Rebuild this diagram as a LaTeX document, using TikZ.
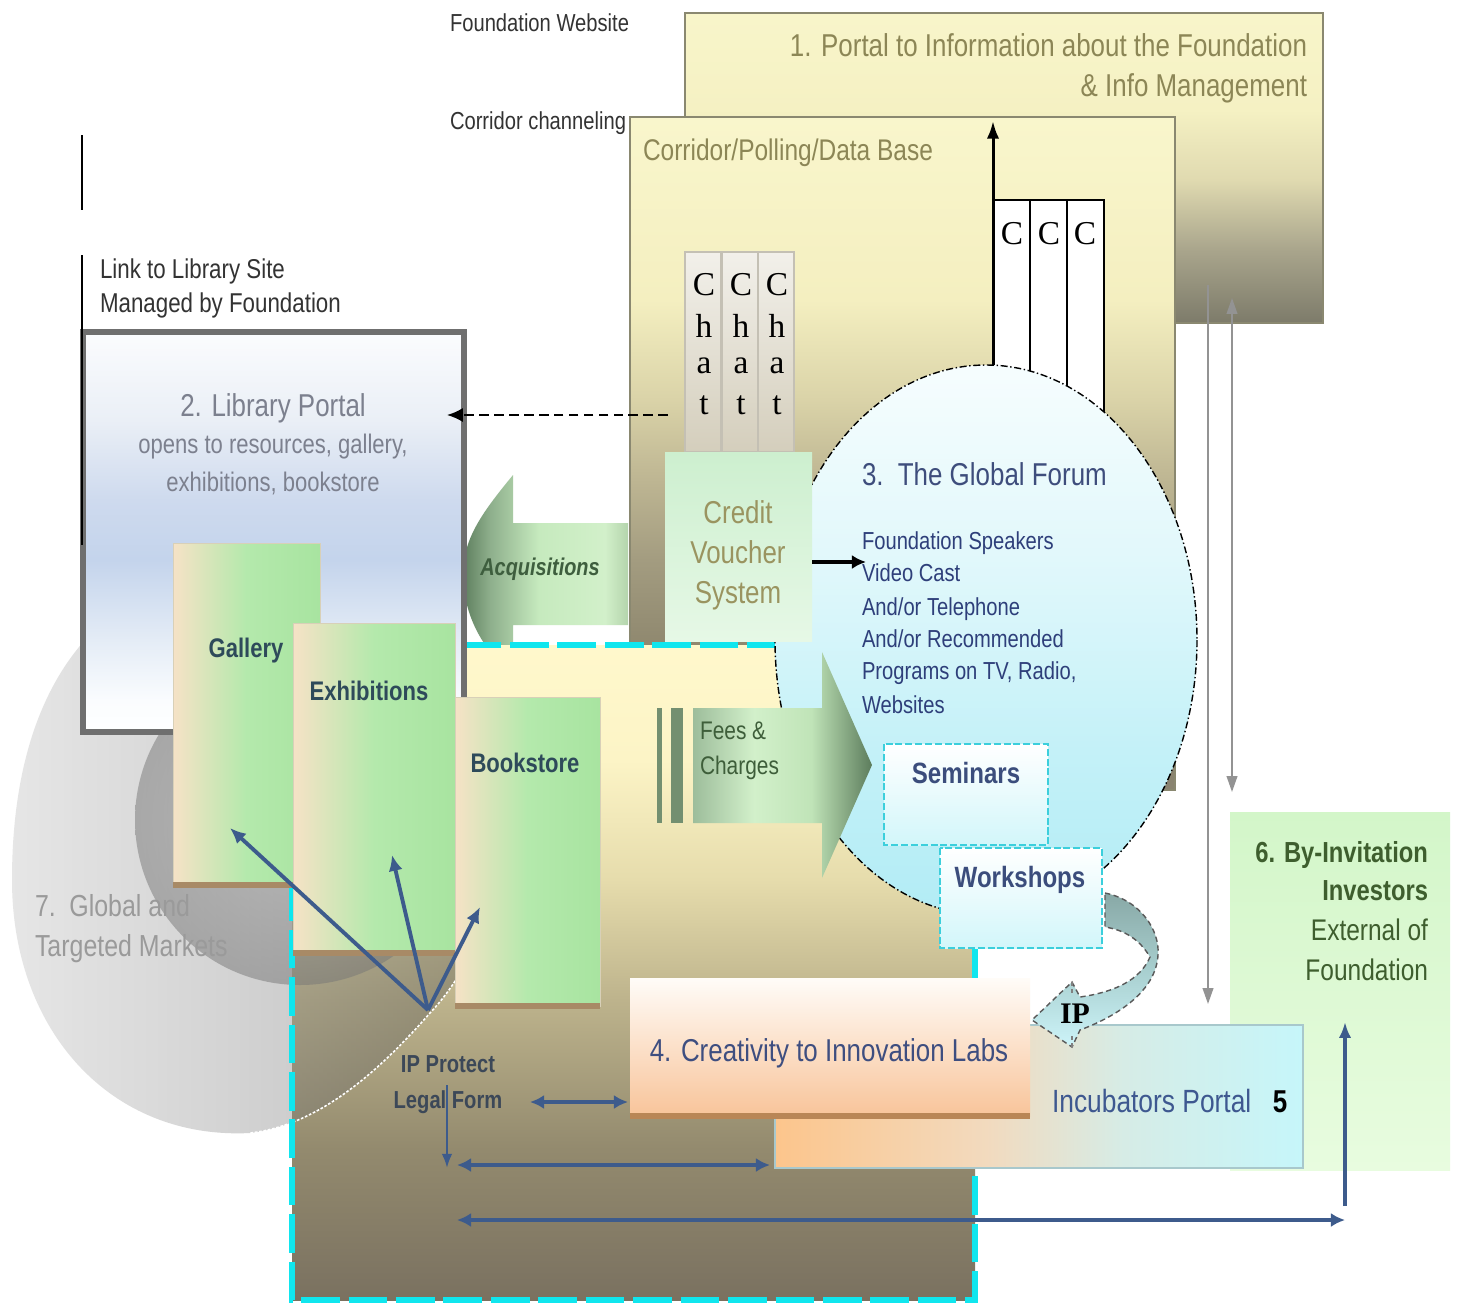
\documentclass[tikz,border=0pt]{standalone}
\usepackage{fontspec}
\setmainfont{Liberation Sans}[FakeStretch=0.82]
\newfontfamily\serf{Liberation Serif}
\usetikzlibrary{arrows.meta}
% ---------- colours ----------
\definecolor{txtdark}{HTML}{333333}
\definecolor{olivet}{HTML}{8C8656}
\definecolor{libt}{HTML}{7C808E}
\definecolor{voucht}{HTML}{9A9460}
\definecolor{acqt}{HTML}{3E5E3E}
\definecolor{forumt}{HTML}{3E4D7C}
\definecolor{listt}{HTML}{2E3F7A}
\definecolor{semt}{HTML}{3B4D7C}
\definecolor{feest}{HTML}{3E5E3A}
\definecolor{galt}{HTML}{2E4A5A}
\definecolor{mktt}{HTML}{9A9A9A}
\definecolor{ipt}{HTML}{3C4858}
\definecolor{labt}{HTML}{3E4E80}
\definecolor{incut}{HTML}{3E5890}
\definecolor{invt}{HTML}{3E5E2E}
\definecolor{arrblue}{HTML}{3D5B8C}
\definecolor{cyanb}{HTML}{10E6EE}
\definecolor{semb}{HTML}{3CCFDC}
\definecolor{semfill}{HTML}{D2F6FA}
\definecolor{libb}{HTML}{6F6F6F}
\definecolor{boxb}{HTML}{8A8870}
\definecolor{peach}{HTML}{F6E2C6}
\definecolor{lgreen}{HTML}{B4E9AC}
\definecolor{lgreen2}{HTML}{A8E4A0}
\definecolor{gbord}{HTML}{D8D0B8}
\definecolor{shadowb}{HTML}{A88A66}
\definecolor{grayl}{HTML}{939393}
\definecolor{chatt}{HTML}{F2F0EA}
\definecolor{chatb}{HTML}{D4CEBC}
\definecolor{chatl}{HTML}{C4C0B4}
\definecolor{vouchT}{HTML}{CDEFCF}
\definecolor{vouchB}{HTML}{E6F8E6}
\definecolor{labT}{HTML}{FFFCF8}
\definecolor{labB}{HTML}{F8C49A}
\definecolor{labS}{HTML}{B98656}
\definecolor{sixT}{HTML}{D3F6C9}
\definecolor{sixB}{HTML}{E8FCDF}
\definecolor{incB}{HTML}{A8C8CC}
\definecolor{bandT}{HTML}{88A8A6}
\definecolor{bandM}{HTML}{A8CFCF}
\definecolor{bandB}{HTML}{CDF4F9}
\definecolor{barg}{HTML}{738F70}
\definecolor{gO1}{HTML}{B8B8B8}
\definecolor{gO2}{HTML}{404040}
\definecolor{gI1}{HTML}{A2A2A2}
\definecolor{gI2}{HTML}{767676}
% box 1
\definecolor{oA}{HTML}{F8F5CA}\definecolor{oB}{HTML}{F5F1C3}\definecolor{oC}{HTML}{E0DAB0}
\definecolor{oD}{HTML}{A9A58C}\definecolor{oE}{HTML}{7D7B6A}
\pgfdeclareverticalshading{shOne}{100bp}{color(0bp)=(oE); color(25bp)=(oE); color(36.8bp)=(oD); color(48.1bp)=(oC); color(59.4bp)=(oB); color(75bp)=(oA); color(100bp)=(oA)}
% corridor
\definecolor{cA}{HTML}{F9F6CC}\definecolor{cB}{HTML}{F4EFC0}\definecolor{cC}{HTML}{DAD3A8}
\definecolor{cD}{HTML}{C1B995}\definecolor{cE}{HTML}{A39C80}\definecolor{cF}{HTML}{8E876E}\definecolor{cG}{HTML}{898370}
\pgfdeclareverticalshading{shCor}{100bp}{color(0bp)=(cG); color(25bp)=(cG); color(35.4bp)=(cF); color(42.1bp)=(cE); color(48.8bp)=(cD); color(54bp)=(cC); color(61.4bp)=(cB); color(75bp)=(cA); color(100bp)=(cA)}
% big yellow
\definecolor{yA}{HTML}{FFF8CC}\definecolor{yB}{HTML}{FCF4C6}\definecolor{yC}{HTML}{E6DCAC}
\definecolor{yD}{HTML}{BDB38C}\definecolor{yE}{HTML}{938A6E}\definecolor{yF}{HTML}{7A7160}
\pgfdeclareverticalshading{shYel}{100bp}{color(0bp)=(yF); color(25bp)=(yF); color(36.5bp)=(yE); color(47.9bp)=(yD); color(57.1bp)=(yC); color(66.2bp)=(yB); color(75bp)=(yA); color(100bp)=(yA)}
% library
\definecolor{lA}{HTML}{FBFCFE}\definecolor{lB}{HTML}{EAEFF6}\definecolor{lC}{HTML}{CEDAEE}
\definecolor{lD}{HTML}{C4D4EC}\definecolor{lE}{HTML}{E4ECF6}\definecolor{lF}{HTML}{FAFCFE}
\pgfdeclareverticalshading{shLib}{100bp}{color(0bp)=(white); color(25bp)=(white); color(29bp)=(lF); color(36.5bp)=(lE); color(46.5bp)=(lD); color(54bp)=(lC); color(64bp)=(lB); color(75bp)=(lA); color(100bp)=(lA)}
% ellipse
\definecolor{eA}{HTML}{F6FDFE}\definecolor{eB}{HTML}{E2F8FB}\definecolor{eC}{HTML}{C4F1F8}\definecolor{eD}{HTML}{B2ECF5}
\pgfdeclareverticalshading{shEll}{100bp}{color(0bp)=(eD); color(25bp)=(eD); color(40bp)=(eC); color(58bp)=(eB); color(75bp)=(eA); color(100bp)=(eA)}
% incubators
\definecolor{iA}{HTML}{FCC58C}\definecolor{iB}{HTML}{F2DABE}\definecolor{iC}{HTML}{D6ECE6}\definecolor{iD}{HTML}{C6F6FA}
\pgfdeclarehorizontalshading{shInc}{100bp}{color(0bp)=(iA); color(25bp)=(iA); color(45bp)=(iB); color(58bp)=(iC); color(75bp)=(iD); color(100bp)=(iD)}
% fees arrow
\definecolor{fA}{HTML}{9DBD9B}\definecolor{fB}{HTML}{D2F0CA}\definecolor{fC}{HTML}{C0E4B8}\definecolor{fD}{HTML}{5C7C5C}
\pgfdeclarehorizontalshading{shFee}{100bp}{color(0bp)=(fA); color(25bp)=(fA); color(42bp)=(fB); color(58bp)=(fC); color(75bp)=(fD); color(100bp)=(fD)}
% acquisitions arrow
\definecolor{aA}{HTML}{5E7E5E}\definecolor{aB}{HTML}{8DAE8B}\definecolor{aC}{HTML}{C6EABE}\definecolor{aD}{HTML}{D2F0CA}\definecolor{aE}{HTML}{B4D4AC}
\pgfdeclarehorizontalshading{shAcq}{100bp}{color(0bp)=(aA); color(25bp)=(aA); color(33bp)=(aB); color(48bp)=(aC); color(68bp)=(aD); color(75bp)=(aE); color(100bp)=(aE)}
\begin{document}
\begin{tikzpicture}[x=0.02cm, y=-0.02cm,
  lbl/.style={inner sep=0pt, outer sep=0pt},
  thinbox/.style={draw=boxb, line width=0.8pt},
  greenbox/.style={left color=peach, right color=lgreen2, middle color=lgreen, draw=gbord, line width=0.5pt},
  cyanbox/.style={top color=white, bottom color=semfill, draw=semb, line width=1.1pt, dash pattern=on 4pt off 1.6pt},
  bluearr/.style={draw=arrblue, line width=2.2pt, -{Latex[length=9pt,width=8pt]}},
  bluedbl/.style={draw=arrblue, line width=2.2pt, {Latex[length=8pt,width=8pt]}-{Latex[length=8pt,width=8pt]}},
  grayarr/.style={draw=grayl, line width=1.1pt},
]
\useasboundingbox (0,0) rectangle (1457,1305);
\fill[white] (0,0) rectangle (1457,1305);

% ---------- top labels ----------
\node[lbl, anchor=base west, text=txtdark, font=\fontsize{14}{17}\selectfont] (fw) at (450,31) {Foundation Website};
\node[lbl, anchor=base west, text=txtdark, font=\fontsize{14}{17}\selectfont] (cch) at (450,129) {Corridor channeling};
\node[lbl, anchor=base west, text=txtdark, font=\fontsize{15.5}{19}\selectfont] (lk1) at (100,278) {Link to Library Site};
\node[lbl, anchor=base west, text=txtdark, font=\fontsize{15.5}{19}\selectfont] (lk2) at (100,312) {Managed by Foundation};
\draw[line width=1.7pt] (82,135) -- (82,210);

% ---------- 1. portal box ----------
\path[shade, shading=shOne, thinbox] (685,13) rectangle (1323,323);
\node[lbl, anchor=base east, text=olivet, font=\fontsize{18}{22}\selectfont] (p1a) at (1307,56) {1. Portal to Information about the Foundation};
\node[lbl, anchor=base east, text=olivet, font=\fontsize{18}{22}\selectfont] (p1b) at (1307,96) {\& Info Management};

% ---------- corridor box ----------
\path[shade, shading=shCor, thinbox] (630,117) rectangle (1175,790);
\node[lbl, anchor=base west, text=olivet, font=\fontsize{17}{20}\selectfont] (cor) at (643,160) {Corridor/Polling/Data Base};

% ---------- gray arrows on the right ----------
\coordinate (gA1) at (1208,285); \coordinate (gA2) at (1208,1004);
\coordinate (gB1) at (1232,792); \coordinate (gB2) at (1232,298);
\draw[grayarr, -{Triangle[length=9pt,width=6pt]}] (gA1) -- (gA2);
\draw[grayarr, {Triangle[length=9pt,width=6pt]}-{Triangle[length=9pt,width=6pt]}] (gB1) -- (gB2);

% ---------- chat columns ----------
\foreach \x in {685,722,758}{
  \path[top color=chatt, bottom color=chatb, draw=chatl, line width=0.6pt] (\x,252) rectangle (\x+36,452);
}
\foreach \x [count=\i] in {704,741,777}{
  \foreach \l/\y [count=\j] in {C/295,h/337,a/373,t/414}{
    \node[lbl, anchor=base, font=\serf\fontsize{19}{22}\selectfont] (ch\i\j) at (\x,\y) {\l};
  }
}
% ---------- C C C columns ----------
\foreach \x in {993,1030,1067}{
  \path[fill=white, draw=black, line width=1.2pt] (\x,200) rectangle (\x+37,420);
}
\foreach \x [count=\i] in {1012,1049,1085}{
  \node[lbl, anchor=base, font=\serf\fontsize{19}{22}\selectfont] (cc\i) at (\x,244) {C};
}
\coordinate (upS) at (993,367); \coordinate (upE) at (993,121);
\draw[line width=1.7pt, -{Latex[length=10pt,width=7pt]}] (upS) -- (upE);

% ---------- acquisitions arrow ----------
\path[shade, shading=shAcq] (628,523) -- (513,523) -- (513,475)
   .. controls (480,515) and (463,540) .. (463,575)
   .. controls (463,615) and (485,655) .. (513,672) -- (513,625) -- (628,625) -- cycle;
\node[lbl, anchor=base, text=acqt, font=\bfseries\itshape\fontsize{13.8}{16}\selectfont] (acq) at (540,575) {Acquisitions};

% ---------- big yellow box ----------
\path[shade, shading=shYel] (292,645) rectangle (975,1300);

% ---------- 7. gray sphere ----------
\def\outerpath{(12,880) .. controls (12,720) and (70,630) .. (150,590)
  .. controls (260,540) and (470,620) .. (495,800)
  .. controls (505,880) and (480,960) .. (430,1013)
  .. controls (380,1070) and (320,1125) .. (250,1133)
  .. controls (110,1140) and (12,1030) .. (12,880) -- cycle}
\path[left color=gO1, right color=gO2, fill opacity=0.35] \outerpath;
\begin{scope}
  \clip \outerpath;
  \path[inner color=gI1, outer color=gI2, fill opacity=0.5] (300,820) circle [radius=165];
\end{scope}
\draw[white, line width=0.9pt, dash pattern=on 1.5pt off 1pt] (495,800) .. controls (505,880) and (480,960) .. (430,1013)
  .. controls (380,1070) and (320,1125) .. (250,1133);

% yellow box border
\draw[draw=cyanb, line width=3.4pt, dash pattern=on 22pt off 5pt] (292,645) rectangle (975,1300);

% ---------- 2. library box ----------
\path[shade, shading=shLib, draw=libb, line width=3.4pt] (83,332) rectangle (464,732);
\draw[line width=1.7pt] (82,255) -- (82,545);
\node[lbl, anchor=base, text=libt, font=\fontsize{18}{22}\selectfont] (lib1) at (273,416) {2. Library Portal};
\node[lbl, anchor=base, text=libt, font=\fontsize{15.3}{19}\selectfont] (lib2) at (273,453) {opens to resources, gallery,};
\node[lbl, anchor=base, text=libt, font=\fontsize{15.3}{19}\selectfont] (lib3) at (273,491) {exhibitions, bookstore};

% ---------- 3. global forum ellipse ----------
\path[shade, shading=shEll, draw=black, line width=0.8pt, dash pattern=on 4pt off 1.5pt on 0.8pt off 1.5pt] (986,640) ellipse [x radius=211, y radius=275];

% ---------- credit voucher ----------
\path[top color=vouchT, bottom color=vouchB] (665,452) rectangle (812,641);
\node[lbl, anchor=base, text=voucht, font=\fontsize{18}{22}\selectfont] (cv1) at (738,523) {Credit};
\node[lbl, anchor=base, text=voucht, font=\fontsize{18}{22}\selectfont] (cv2) at (738,563) {Voucher};
\node[lbl, anchor=base, text=voucht, font=\fontsize{18}{22}\selectfont] (cv3) at (738,603) {System};

\coordinate (dashS) at (668,415); \coordinate (dashE) at (447,415);
\draw[line width=1.2pt, dash pattern=on 5.5pt off 3pt, -{Latex[length=9pt,width=8pt]}] (dashS) -- (dashE);
\coordinate (vouS) at (812,562); \coordinate (vouE) at (866,562);
\draw[line width=2.4pt, -{Latex[length=8pt,width=8pt]}] (vouS) -- (vouE);

% ---------- fees arrow ----------
\fill[barg] (657,708) rectangle (662,823);
\fill[barg] (671,708) rectangle (683,823);
\path[shade, shading=shFee] (693,708) -- (822,708) -- (822,652) -- (872,765) -- (822,878) -- (822,823) -- (693,823) -- cycle;
\node[lbl, anchor=base west, text=feest, font=\fontsize{14.5}{17}\selectfont] (fee1) at (700,739) {Fees \&};
\node[lbl, anchor=base west, text=feest, font=\fontsize{14.5}{17}\selectfont] (fee2) at (700,774) {Charges};

% ---------- seminars / workshops ----------
\path[cyanbox] (884,744) rectangle (1048,845);
\node[lbl, anchor=base, text=semt, font=\bfseries\fontsize{16.7}{20}\selectfont] (sem) at (966,783) {Seminars};
\path[cyanbox] (940,848) rectangle (1102,948);
\node[lbl, anchor=base, text=semt, font=\bfseries\fontsize{16.7}{20}\selectfont] (wks) at (1020,887) {Workshops};

% forum texts
\node[lbl, anchor=base west, text=forumt, font=\fontsize{18}{22}\selectfont] (gf) at (862,485) {3.\hspace{0.45em}The Global Forum};
\foreach \t/\y [count=\k] in {{Foundation Speakers}/549, {Video Cast}/581, {And/or Telephone}/615, {And/or Recommended}/647, {Programs on TV, Radio,}/679, {Websites}/713}{
  \node[lbl, anchor=base west, text=listt, font=\fontsize{14}{17}\selectfont] (gl\k) at (862,\y) {\t};
}

% ---------- gallery / exhibitions / bookstore ----------
\path[greenbox] (173,543) rectangle (320,885);
\fill[shadowb] (173,882) rectangle (320,888);
\node[lbl, anchor=base, text=galt, font=\bfseries\fontsize{15.3}{18}\selectfont] (gal) at (246,657) {Gallery};
\path[greenbox] (293,623) rectangle (455,953);
\fill[shadowb] (293,950) rectangle (455,956);
\node[lbl, anchor=base, text=galt, font=\bfseries\fontsize{15.3}{18}\selectfont] (exh) at (369,700) {Exhibitions};
\path[greenbox] (455,697) rectangle (600,1006);
\fill[shadowb] (455,1003) rectangle (600,1009);
\node[lbl, anchor=base, text=galt, font=\bfseries\fontsize{15.3}{18}\selectfont] (bks) at (525,772) {Bookstore};

% 7. markets text
\node[lbl, anchor=base west, text=mktt, font=\fontsize{17.3}{21}\selectfont] (mk1) at (35,916) {7.\hspace{0.45em}Global and};
\node[lbl, anchor=base west, text=mktt, font=\fontsize{17.3}{21}\selectfont] (mk2) at (35,956) {Targeted Markets};

% ---------- 6. investors ----------
\path[top color=sixT, bottom color=sixB] (1230,812) rectangle (1450,1170);
\node[lbl, anchor=base east, text=invt, font=\bfseries\fontsize{16.5}{20}\selectfont] (i6a) at (1428,862) {6. By-Invitation};
\node[lbl, anchor=base east, text=invt, font=\bfseries\fontsize{16.5}{20}\selectfont] (i6b) at (1428,900) {Investors};
\node[lbl, anchor=base east, text=invt, font=\fontsize{17}{20}\selectfont] (i6c) at (1428,940) {External of};
\node[lbl, anchor=base east, text=invt, font=\fontsize{17}{20}\selectfont] (i6d) at (1428,980) {Foundation};

% ---------- 5. incubators ----------
\path[shade, shading=shInc, draw=incB, line width=0.6pt] (775,1025) rectangle (1303,1168);
\node[lbl, anchor=base west, text=incut, font=\fontsize{18.3}{22}\selectfont] (inc) at (1052,1112) {Incubators Portal};
\node[lbl, anchor=base, font=\bfseries\fontsize{18}{22}\selectfont] (inc5) at (1280,1112) {5};

% ---------- 4. labs ----------
\path[top color=labT, bottom color=labB] (630,978) rectangle (1030,1116);
\fill[labS] (630,1113) rectangle (1030,1119);
\node[lbl, anchor=base, text=labt, font=\fontsize{18}{22}\selectfont] (lab) at (829,1061) {4. Creativity to Innovation Labs};

% ---------- curved IP band ----------
\path[top color=bandT, bottom color=bandB, middle color=bandM, draw=black!65, line width=0.8pt, dash pattern=on 3pt off 2pt]
  (1105,893) .. controls (1140,900) and (1160,930) .. (1158,955)
  .. controls (1156,990) and (1120,1015) .. (1080,1030) -- (1072,1047) -- (1032,1020) -- (1072,982) -- (1080,997)
  .. controls (1115,992) and (1140,980) .. (1150,957)
  .. controls (1140,940) and (1125,930) .. (1105,927) -- cycle;
\draw[black!50, line width=0.6pt, dash pattern=on 2pt off 2pt] (1072,982) -- (1072,993) (1072,1036) -- (1072,1047);
\node[lbl, anchor=base, font=\serf\bfseries\fontsize{17}{20}\selectfont] (ipl) at (1075,1023) {IP};

% ---------- blue arrows ----------
\coordinate (ipo) at (428,1010);
\coordinate (tGal) at (230,828); \coordinate (tExh) at (392,855); \coordinate (tBook) at (480,907);
\draw[bluearr] (ipo) -- (tGal);
\draw[bluearr] (ipo) -- (tExh);
\draw[bluearr] (ipo) -- (tBook);
\node[lbl, anchor=base, text=ipt, font=\bfseries\fontsize{14}{17}\selectfont] (ipp1) at (448,1072) {IP Protect};
\node[lbl, anchor=base, text=ipt, font=\bfseries\fontsize{14}{17}\selectfont] (ipp2) at (448,1108) {Legal Form};
\coordinate (lfR) at (530,1102); \coordinate (labL) at (628,1102);
\draw[bluedbl] (lfR) -- (labL);
\coordinate (vS) at (447,1085); \coordinate (vE) at (447,1168);
\draw[draw=arrblue, line width=1.4pt, -{Latex[length=8pt,width=6pt]}] (vS) -- (vE);
\coordinate (m1L) at (457,1165); \coordinate (m1R) at (770,1165);
\draw[bluedbl] (m1L) -- (m1R);
\coordinate (m2L) at (457,1220); \coordinate (m2R) at (1345,1220);
\draw[bluedbl] (m2L) -- (m2R);
\coordinate (upS6) at (1345,1206); \coordinate (upE6) at (1345,1022);
\draw[draw=arrblue, line width=1.8pt, -{Latex[length=9pt,width=7pt]}] (upS6) -- (upE6);
\end{tikzpicture}
\end{document}
